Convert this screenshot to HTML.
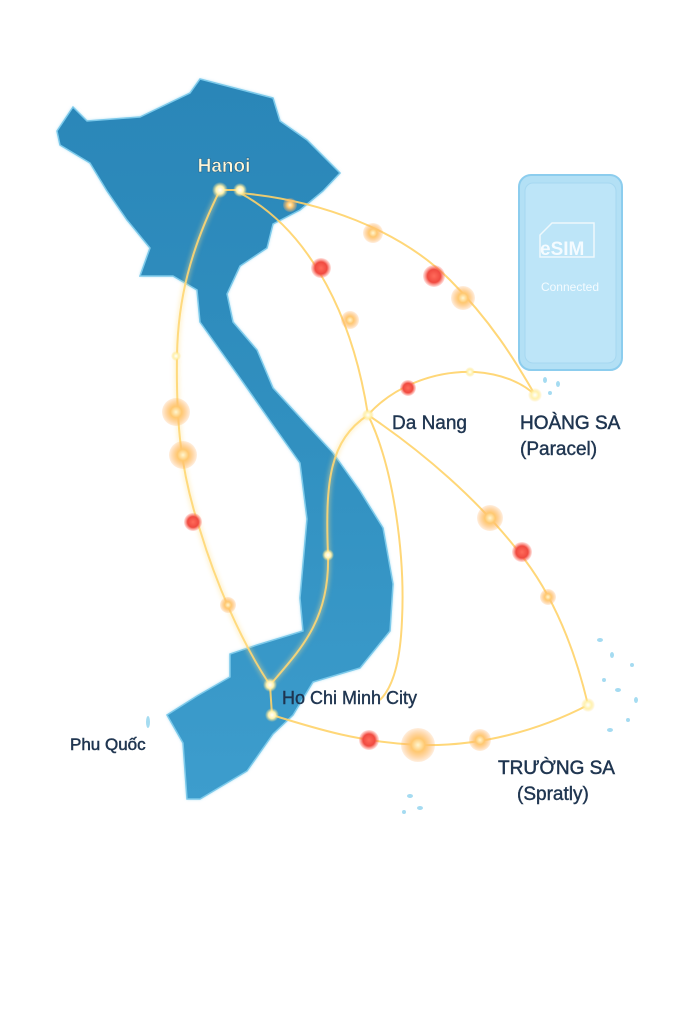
<!DOCTYPE html>
<html><head><meta charset="utf-8"><style>
html,body{margin:0;padding:0;background:#fff;}
svg{display:block}
text{font-family:"Liberation Sans","DejaVu Sans",sans-serif;}
</style></head><body>
<svg width="682" height="1024" viewBox="0 0 682 1024" xmlns="http://www.w3.org/2000/svg">
<defs>
<linearGradient id="land" x1="0" y1="0" x2="0" y2="1">
<stop offset="0" stop-color="#2a86b8"/><stop offset="0.5" stop-color="#3190c0"/><stop offset="1" stop-color="#3d9dcd"/>
</linearGradient>
<filter id="glow" x="-50%" y="-50%" width="200%" height="200%"><feGaussianBlur stdDeviation="2.5"/></filter>
<filter id="soft" x="-20%" y="-20%" width="140%" height="140%"><feGaussianBlur stdDeviation="1.5"/></filter>
<radialGradient id="org"><stop offset="0" stop-color="#fff6d0"/><stop offset="0.4" stop-color="#ffc870"/><stop offset="1" stop-color="#ffb060" stop-opacity="0.2"/></radialGradient>
<radialGradient id="red"><stop offset="0" stop-color="#ff6a5a"/><stop offset="0.6" stop-color="#f04a40"/><stop offset="1" stop-color="#ff7060" stop-opacity="0.2"/></radialGradient>
<radialGradient id="wht"><stop offset="0" stop-color="#fff"/><stop offset="0.5" stop-color="#fff3b0"/><stop offset="1" stop-color="#ffe080" stop-opacity="0"/></radialGradient>
</defs>
<path d="M57,131 L73,107 L87,121 L140,117 L190,93 L200,79 L273,98 L280,121 L307,140 L340,173 L323,191 L300,210 L273,224 L267,248 L240,266 L227,294 L233,322 L257,350 L273,388 L307,425 L333,453 L360,491 L383,528 L393,584 L390,631 L360,668 L313,682 L293,715 L273,734 L247,771 L200,799 L187,799 L183,743 L167,715 L197,696 L230,677 L230,654 L257,645 L303,631 L300,598 L307,519 L300,463 L273,425 L240,378 L200,322 L197,290 L173,276 L140,276 L150,248 L127,220 L107,191 L90,163 L60,145 Z" fill="#8fd3f0" filter="url(#soft)"/>
<path d="M57,131 L73,107 L87,121 L140,117 L190,93 L200,79 L273,98 L280,121 L307,140 L340,173 L323,191 L300,210 L273,224 L267,248 L240,266 L227,294 L233,322 L257,350 L273,388 L307,425 L333,453 L360,491 L383,528 L393,584 L390,631 L360,668 L313,682 L293,715 L273,734 L247,771 L200,799 L187,799 L183,743 L167,715 L197,696 L230,677 L230,654 L257,645 L303,631 L300,598 L307,519 L300,463 L273,425 L240,378 L200,322 L197,290 L173,276 L140,276 L150,248 L127,220 L107,191 L90,163 L60,145 Z" fill="url(#land)" stroke="#7cc9ea" stroke-width="1.5"/>
<g fill="#8fd3ee" opacity="0.8">
<ellipse cx="148" cy="722" rx="2" ry="6"/><ellipse cx="600" cy="640" rx="3" ry="2"/><ellipse cx="612" cy="655" rx="2" ry="3"/><ellipse cx="632" cy="665" rx="2" ry="2"/><ellipse cx="604" cy="680" rx="2" ry="2"/><ellipse cx="618" cy="690" rx="3" ry="2"/><ellipse cx="636" cy="700" rx="2" ry="3"/><ellipse cx="628" cy="720" rx="2" ry="2"/><ellipse cx="610" cy="730" rx="3" ry="2"/>
<ellipse cx="410" cy="796" rx="3" ry="2"/><ellipse cx="420" cy="808" rx="3" ry="2"/><ellipse cx="404" cy="812" rx="2" ry="2"/><ellipse cx="545" cy="380" rx="2" ry="3"/><ellipse cx="558" cy="384" rx="2" ry="3"/><ellipse cx="550" cy="393" rx="2" ry="2"/>
</g>
<!-- phone -->
<rect x="519" y="175" width="103" height="195" rx="12" fill="#b3e0f5" stroke="#8ccdee" stroke-width="2"/>
<rect x="525" y="183" width="91" height="180" rx="8" fill="#bde5f8" stroke="#a6d8f1" stroke-width="1"/>
<path d="M552,223 L594,223 L594,257 L540,257 L540,235 Z" fill="none" stroke="#eef8fc" stroke-width="1.5"/>
<text x="540" y="255" font-size="19" fill="#f4fbff" font-weight="bold">eSIM</text>
<text x="570" y="291" font-size="12" fill="#f4fbff" text-anchor="middle">Connected</text>
<!-- routes -->
<g fill="none" stroke="#ffd36a" stroke-width="2" opacity="0.9">
<path d="M220,190 C190,250 178,300 177,355 C176,420 180,470 200,530 C215,580 240,640 270,685 L272,715"/>
<path d="M240,193 C300,225 350,300 368,415"/>
<path d="M240,193 C320,200 400,230 450,280 C490,320 515,360 535,395"/>
<path d="M368,415 C330,440 325,480 328,555 C330,620 300,650 270,685"/>
<path d="M368,415 C395,470 405,560 402,620 C400,670 390,690 380,700"/>
<path d="M368,415 C390,390 430,370 475,372 C505,374 525,385 535,395"/>
<path d="M368,415 C420,450 480,500 525,560 C555,600 575,650 588,705"/>
<path d="M272,715 C320,730 360,742 418,745 C480,747 540,730 588,705"/>
<path d="M220,190 L240,190"/>
</g>
<g filter="url(#glow)" fill="none" stroke="#ffe08a" stroke-width="4" opacity="0.5">
<path d="M220,190 C190,250 178,300 177,355 C176,420 180,470 200,530 C215,580 240,640 270,685"/>
<path d="M368,415 C330,440 325,480 328,555 C330,620 300,650 270,685"/>
</g>
<!-- dots -->
<g>
<circle cx="373" cy="233" r="10" fill="url(#org)"/>
<circle cx="463" cy="298" r="12" fill="url(#org)"/>
<circle cx="350" cy="320" r="9" fill="url(#org)"/>
<circle cx="176" cy="412" r="14" fill="url(#org)"/>
<circle cx="183" cy="455" r="14" fill="url(#org)"/>
<circle cx="228" cy="605" r="8" fill="url(#org)"/>
<circle cx="490" cy="518" r="13" fill="url(#org)"/>
<circle cx="548" cy="597" r="8" fill="url(#org)"/>
<circle cx="418" cy="745" r="17" fill="url(#org)"/>
<circle cx="480" cy="740" r="11" fill="url(#org)"/>
<circle cx="290" cy="205" r="7" fill="url(#org)"/>
<circle cx="321" cy="268" r="10" fill="url(#red)"/>
<circle cx="434" cy="276" r="11" fill="url(#red)"/>
<circle cx="408" cy="388" r="8" fill="url(#red)"/>
<circle cx="193" cy="522" r="9" fill="url(#red)"/>
<circle cx="522" cy="552" r="10" fill="url(#red)"/>
<circle cx="369" cy="740" r="10" fill="url(#red)"/>
<circle cx="220" cy="190" r="8" fill="url(#wht)"/>
<circle cx="240" cy="190" r="7" fill="url(#wht)"/>
<circle cx="368" cy="415" r="6" fill="url(#wht)"/>
<circle cx="176" cy="356" r="5" fill="url(#wht)"/>
<circle cx="328" cy="555" r="6" fill="url(#wht)"/>
<circle cx="270" cy="685" r="7" fill="url(#wht)"/>
<circle cx="272" cy="715" r="7" fill="url(#wht)"/>
<circle cx="535" cy="395" r="7" fill="url(#wht)"/>
<circle cx="588" cy="705" r="7" fill="url(#wht)"/>
<circle cx="470" cy="372" r="5" fill="url(#wht)"/>
</g>
<!-- labels -->
<text x="224" y="172" font-size="19" font-weight="bold" fill="#fdf6d8" text-anchor="middle" stroke="#1d5a80" stroke-width="0.5">Hanoi</text>
<text x="392" y="429" font-size="19" fill="#1f3550" stroke="#1f3550" stroke-width="0.4">Da Nang</text>
<text x="520" y="429" font-size="19" fill="#1f3550" stroke="#1f3550" stroke-width="0.5">HOÀNG SA</text>
<text x="520" y="455" font-size="19" fill="#1f3550" stroke="#1f3550" stroke-width="0.4">(Paracel)</text>
<text x="498" y="774" font-size="19" fill="#1f3550" stroke="#1f3550" stroke-width="0.5">TRƯỜNG SA</text>
<text x="517" y="800" font-size="19" fill="#1f3550" stroke="#1f3550" stroke-width="0.4">(Spratly)</text>
<text x="70" y="750" font-size="17" fill="#1f3550" stroke="#1f3550" stroke-width="0.5">Phu Quốc</text>
<text x="282" y="704" font-size="18" fill="#1f3550" stroke="#1f3550" stroke-width="0.4">Ho Chi Minh City</text>
</svg>
</body></html>
